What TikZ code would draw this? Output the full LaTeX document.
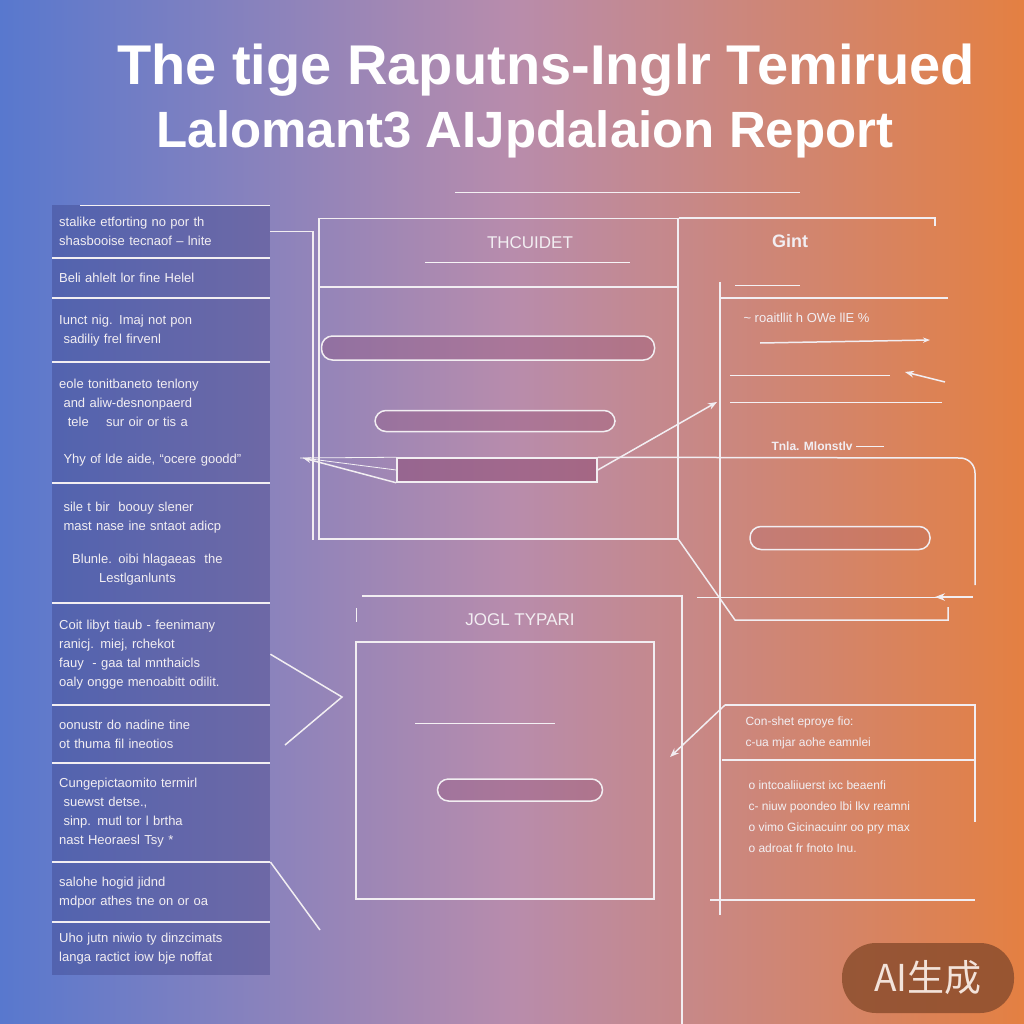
\documentclass[tikz,border=0pt]{standalone}
\usepackage{fontspec}
\setmainfont{Liberation Sans}
\newfontfamily\cjkfont{Noto Sans CJK SC}
\usetikzlibrary{positioning,arrows.meta,calc}

\definecolor{bgblue}{RGB}{88,120,206}
\definecolor{bgmauve}{RGB}{184,140,172}
\definecolor{bgorange}{RGB}{228,128,66}
\definecolor{panelnavy}{RGB}{50,52,120}
\definecolor{barmauve}{RGB}{140,70,110}
\definecolor{inkwhite}{RGB}{242,238,242}
\definecolor{badgebrown}{RGB}{140,78,46}

\begin{document}
\begin{tikzpicture}[x=1pt, y=-1pt, font=\fontsize{13}{19}\selectfont,
  wire/.style={draw=inkwhite, line width=1.5pt},
  thinwire/.style={draw=inkwhite!85, line width=0.8pt},
  leftbox/.style={fill=panelnavy, fill opacity=0.32, text opacity=1, text=inkwhite,
    anchor=north west, minimum width=218pt, text width=204pt, inner xsep=7pt, align=left},
  card/.style={draw=inkwhite, line width=1.5pt, anchor=north west, inner sep=0pt},
  pill/.style={draw=inkwhite, line width=1.5pt, rounded corners=11pt, fill=barmauve,
    fill opacity=0.3, inner sep=0pt},
  heading/.style={text=inkwhite, font=\fontsize{17}{20}\selectfont},
  bodytext/.style={text=inkwhite, align=left, anchor=west},
  title/.style={text=white, font=\fontsize{56}{58}\selectfont\bfseries}]
  \useasboundingbox (0,0) rectangle (1024,1024);

  % Background
  \shade[left color=bgblue, right color=bgorange, middle color=bgmauve] (0,0) rectangle (1024,1024);

  % Title
  \node[title] (title1) at (546,70) {The tige Raputns-Inglr Temirued};
  \node[title, font=\fontsize{51}{54}\selectfont\bfseries] (title2) at (525,134) {Lalomant3 AIJpdalaion Report};
  \draw[thinwire] (455,192) -- (800,192);

  % Left column
  \node[leftbox, minimum height=53pt] (b0) at (52,205) {stalike etforting no por th\\ shasbooise tecnaof -- lnite};
  \node[leftbox, minimum height=40pt, text=inkwhite!80] (b1) at (52,258) {Beli ahlelt lor fine Helel};
  \node[leftbox, minimum height=64pt] (b2) at (52,298) {Iunct nig. Imaj not pon\\ \ sadiliy frel firvenl};
  \node[leftbox, minimum height=121pt] (b3) at (52,362) {eole tonitbaneto tenlony\\ \ and aliw-desnonpaerd\\ \ \ tele \quad sur oir or tis a\\[18pt] \ Yhy of lde aide, ``ocere goodd''};
  \node[leftbox, minimum height=120pt] (b4) at (52,483) {\ sile t bir \ boouy slener\\ \ mast nase ine sntaot adicp\\[14pt] \quad Blunle. oibi hlagaeas \ the\\ \hspace*{40pt}Lestlganlunts};
  \node[leftbox, minimum height=102pt] (b5) at (52,603) {Coit libyt tiaub - feenimany\\ ranicj. miej, rchekot\\ fauy \ - gaa tal mnthaicls\\ oaly ongge menoabitt odilit.};
  \node[leftbox, minimum height=58pt] (b6) at (52,705) {oonustr do nadine tine\\ ot thuma fil ineotios};
  \node[leftbox, minimum height=99pt] (b7) at (52,763) {Cungepictaomito termirl\\ \ suewst detse.,\\ \ sinp. mutl tor l brtha\\ nast Heoraesl Tsy *};
  \node[leftbox, minimum height=60pt] (b8) at (52,862) {salohe hogid jidnd\\ mdpor athes tne on or oa};
  \node[leftbox, minimum height=53pt] (b9) at (52,922) {Uho jutn niwio ty dinzcimats\\ langa ractict iow bje noffat};

  \foreach \b in {b1,b2,b3,b4,b5,b6,b7,b8,b9}
    \draw[wire] (\b.north west) -- (\b.north east);
  \draw[thinwire] ($(b0.north west)+(28,0)$) -- (b0.north east);

  % Top card
  \node[card, minimum width=359pt, minimum height=320pt] (topcard) at (318,218) {};
  \node[heading] (topname) at (530,243) {THCUIDET};
  \draw[thinwire, draw=inkwhite!60] (425,262) -- (630,262);
  \draw[wire] (318,287) -- (677,287);
  \draw[wire] (topcard.north east) -- (935,218) -- ++(0,8);
  \node[pill, minimum width=333pt, minimum height=24pt] (bar1) at (488,348) {};
  \node[pill, minimum width=240pt, minimum height=21pt] (bar2) at (495,421) {};
  \node[pill, rounded corners=0pt, fill opacity=0.5, minimum width=200pt, minimum height=24pt] (bar3) at (497,470) {};

  % Left feed into top card
  \coordinate (leftrail) at (313,238);
  \draw[wire] (b0.east) -- (b0.east -| leftrail) -- (313,540);
  \coordinate (leftin) at (303,458);
  \draw[wire, -{Stealth[length=8pt]}] (bar3.south west) -- (leftin);
  \draw[thinwire] (leftin) -- (bar3.west);

  % Right panel
  \node[heading, font=\fontsize{18}{20}\selectfont\bfseries] (gint) at (790,241) {Gint};
  \draw[wire] (720,282) -- (720,915);
  \draw[thinwire] (735,285) -- (800,285);
  \draw[wire] (720,298) -- (948,298);
  \node[bodytext] (pct) at (740,318) {\textasciitilde\ roaitllit h OWe llE \%};
  \draw[wire, -{Stealth[length=7pt]}] (760,343) -- (930,340);
  \draw[thinwire] (730,375) -- (890,375);
  \coordinate (rtip) at (905,372);
  \draw[wire, {Stealth[length=9pt]}-] (rtip) -- (945,382);
  \draw[thinwire] (730,402) -- (942,402);
  \draw[wire, -{Stealth[length=9pt]}] (bar3.east) -- (717,402);

  \node[bodytext, font=\fontsize{12}{14}\selectfont\bfseries] (tnla) at (768,446) {Tnla. Mlonstlv};
  \draw[thinwire] (tnla.east) -- ++(28,0);
  \draw[wire] (bar3.north east) -- (960,458) to[out=0, in=90] (975,473) -- (975,585);
  \draw[thinwire] (300,458) -- (bar3.north west);
  \node[pill, minimum width=180pt, minimum height=23pt, fill opacity=0.15] (bar4) at (840,538) {};
  \coordinate (rbend) at (735,620);
  \draw[wire] (topcard.south east) -- (rbend) -- (948,620) -- (948,607);
  \draw[thinwire] (697,597) -- (973,597);
  \draw[wire, -{Stealth[length=10pt]}] (973,597) -- (935,597);

  % Bottom card
  \draw[wire] (362,596) -- (682,596) -- (682,1024);
  \draw[thinwire] (356,608) -- (356,622);
  \node[heading] (botname) at (520,620) {JOGL TYPARI};
  \node[card, minimum width=298pt, minimum height=257pt] (botcard) at (355,641) {};
  \draw[thinwire] (415,723) -- (555,723);
  \node[pill, minimum width=165pt, minimum height=22pt] (bar5) at (520,790) {};
  \coordinate (zig) at (342,697);
  \draw[wire] (b5.east) -- (zig) -- (285,745);
  \draw[wire] (b8.north east) -- (320,930);

  % Right bottom panel
  \coordinate (rbox) at (725,705);
  \draw[wire] (rbox) -- (975,705) -- (975,822);
  \draw[wire] (722,760) -- (975,760);
  \node[bodytext, font=\fontsize{12}{21}\selectfont] (conshet) at (742,733) {Con-shet eproye fio:\\ c-ua mjar aohe eamnlei};
  \node[bodytext, font=\fontsize{12}{21}\selectfont, text=inkwhite!90] (bullets) at (745,817) {o intcoaliiuerst ixc beaenfi\\ c- niuw poondeo lbi lkv reamni\\ o vimo Gicinacuinr oo pry max\\ o adroat fr fnoto Inu.};
  \draw[wire, -{Stealth[length=9pt]}] (rbox) -- (670,757);
  \draw[wire] (710,900) -- (975,900);

  % Badge
  \node[fill=badgebrown, fill opacity=0.85, text opacity=1, text=inkwhite!90!orange,
    rounded corners=34pt, minimum width=172pt, minimum height=70pt,
    font=\cjkfont\fontsize{37}{39}\selectfont] (badge) at (928,978) {AI生成};
\end{tikzpicture}
\end{document}
